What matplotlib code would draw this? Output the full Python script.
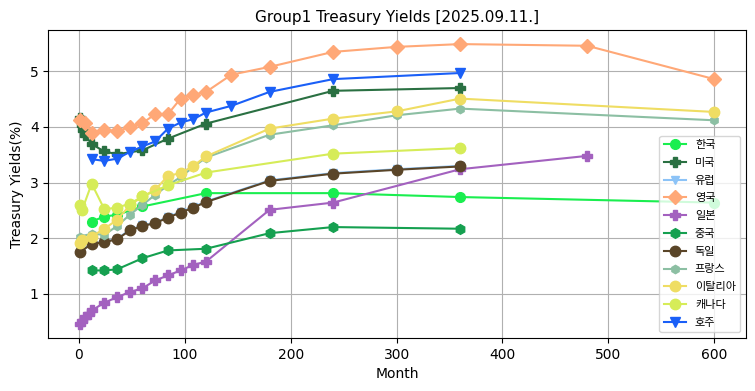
import matplotlib
matplotlib.use("Agg")
import matplotlib.pyplot as plt

plt.rcParams['font.family'] = ['DejaVu Sans', 'Noto Sans CJK KR']

# 한국
kr_m = [12, 24, 36, 60, 120, 240, 360, 600]
kr_y = [2.30, 2.39, 2.42, 2.57, 2.81, 2.81, 2.74, 2.64]
# 미국
us_m = [1, 2, 3, 4, 6, 12, 24, 36, 60, 84, 120, 240, 360]
us_y = [4.17, 4.12, 4.03, 3.95, 3.85, 3.69, 3.56, 3.51, 3.58, 3.79, 4.06, 4.65, 4.70]
# 유럽 (mostly hidden under Germany)
eu_m = [1, 12, 24, 36, 48, 60, 72, 84, 96, 108, 120, 180, 240, 300, 360]
eu_y = [1.77, 1.90, 1.94, 1.99, 2.15, 2.23, 2.28, 2.38, 2.47, 2.56, 2.66, 3.04, 3.17, 3.24, 3.30]
# 영국
uk_m = [1, 6, 12, 24, 36, 48, 60, 72, 84, 96, 108, 120, 144, 180, 240, 300, 360, 480, 600]
uk_y = [4.12, 4.07, 3.90, 3.95, 3.92, 4.00, 4.07, 4.23, 4.23, 4.51, 4.58, 4.63, 4.94, 5.08, 5.35, 5.44, 5.49, 5.46, 4.86]
# 일본
jp_m = [1, 3, 6, 9, 12, 24, 36, 48, 60, 72, 84, 96, 108, 120, 180, 240, 360, 480]
jp_y = [0.46, 0.51, 0.58, 0.64, 0.70, 0.84, 0.94, 1.03, 1.10, 1.24, 1.33, 1.42, 1.52, 1.58, 2.51, 2.64, 3.24, 3.48]
# 중국
cn_m = [12, 24, 36, 60, 84, 120, 180, 240, 360]
cn_y = [1.42, 1.42, 1.44, 1.64, 1.78, 1.81, 2.09, 2.20, 2.17]
# 독일
de_m = [1, 12, 24, 36, 48, 60, 72, 84, 96, 108, 120, 180, 240, 300, 360]
de_y = [1.76, 1.89, 1.93, 1.98, 2.14, 2.22, 2.27, 2.37, 2.46, 2.55, 2.65, 3.03, 3.16, 3.23, 3.29]
# 프랑스
fr_m = [1, 12, 24, 36, 48, 60, 72, 84, 96, 108, 120, 180, 240, 300, 360, 600]
fr_y = [2.03, 2.08, 2.06, 2.22, 2.42, 2.60, 2.78, 2.95, 3.10, 3.28, 3.45, 3.86, 4.03, 4.21, 4.33, 4.12]
# 이탈리아
it_m = [1, 3, 12, 24, 36, 48, 60, 72, 84, 96, 108, 120, 180, 240, 300, 360, 600]
it_y = [1.92, 1.97, 2.03, 2.17, 2.33, 2.59, 2.75, 2.87, 3.12, 3.17, 3.30, 3.47, 3.97, 4.15, 4.28, 4.51, 4.27]
# 캐나다
ca_m = [1, 3, 12, 24, 36, 48, 60, 84, 120, 240, 360]
ca_y = [2.60, 2.51, 2.98, 2.52, 2.55, 2.62, 2.75, 2.95, 3.18, 3.52, 3.62]
# 호주
au_m = [12, 24, 36, 48, 60, 72, 84, 96, 108, 120, 144, 180, 240, 360]
au_y = [3.42, 3.39, 3.43, 3.55, 3.65, 3.74, 3.97, 4.08, 4.14, 4.26, 4.38, 4.63, 4.86, 4.97]

fig = plt.figure(figsize=(7.55, 3.91), dpi=100)
ax = fig.add_axes([0.064, 0.136, 0.924, 0.787])

ax.plot(kr_m, kr_y, marker='o', ms=7, lw=1.5, color='#1aee4f', label='한국')
ax.plot(us_m, us_y, marker='P', ms=7, lw=1.5, color='#2a7042', label='미국')
ax.plot(eu_m, eu_y, marker='v', ms=6, lw=1.5, color='#8cc3f7', label='유럽')
ax.plot(uk_m, uk_y, marker='D', ms=7, lw=1.5, color='#ffa877', label='영국')
ax.plot(jp_m, jp_y, marker='P', ms=7, lw=1.5, color='#a361bf', label='일본')
ax.plot(cn_m, cn_y, marker='h', ms=7, lw=1.5, color='#15a050', label='중국')
ax.plot(de_m, de_y, marker='o', ms=7.5, lw=1.5, color='#5a4528', label='독일')
ax.plot(fr_m, fr_y, marker='h', ms=6, lw=1.5, color='#8cbfa3', label='프랑스')
ax.plot(it_m, it_y, marker='o', ms=7.5, lw=1.5, color='#efdd63', label='이탈리아')
ax.plot(ca_m, ca_y, marker='o', ms=7.5, lw=1.5, color='#d6ec58', label='캐나다')
ax.plot(au_m, au_y, marker='v', ms=7, lw=1.5, color='#1a5ff7', label='호주')

ax.set_title('Group1 Treasury Yields [2025.09.11.]', fontsize=11)
ax.set_xlabel('Month', fontsize=10)
ax.set_ylabel('Treasury Yields(%)', fontsize=10)
ax.grid(True)
ax.legend(loc='lower right', fontsize=8, labelspacing=0.7)

fig.savefig('out.png', dpi=100)
